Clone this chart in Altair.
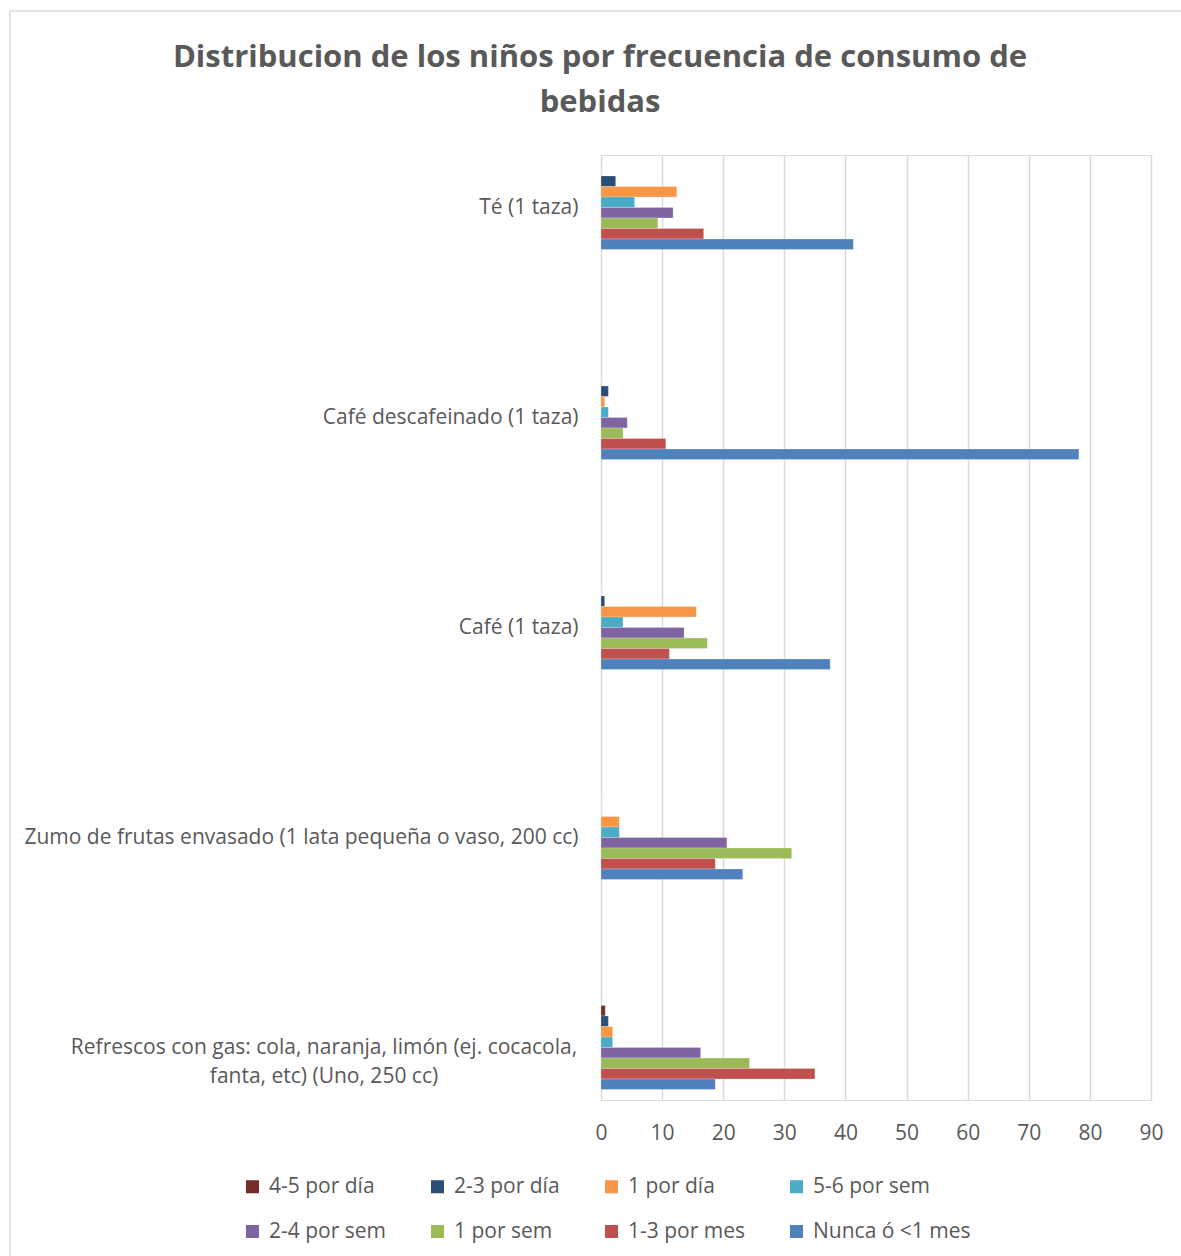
import altair as alt
import pandas as pd

title_lines = ["Distribucion de los niños por frecuencia de consumo de", "bebidas"]
categories = [
    "Té (1 taza)",
    "Café descafeinado (1 taza)",
    "Café (1 taza)",
    "Zumo de frutas envasado (1 lata pequeña o vaso, 200 cc)",
    "Refrescos con gas: cola, naranja, limón (ej. cocacola, fanta, etc) (Uno, 250 cc)",
]
wrapped_label = ["Refrescos con gas: cola, naranja, limón (ej. cocacola,",
                 "fanta, etc) (Uno, 250 cc)"]
series = ["4-5 por día", "2-3 por día", "1 por día", "5-6 por sem",
          "2-4 por sem", "1 por sem", "1-3 por mes", "Nunca ó <1 mes"]
colors = ["#772C2A", "#2C4D75", "#F79646", "#4BACC6",
          "#8064A2", "#9BBB59", "#C0504D", "#4F81BD"]

# values per category, in series order
te = [0, 2.4, 12.4, 5.5, 11.8, 9.3, 16.8, 41.3]
descaf = [0, 1.2, 0.6, 1.2, 4.3, 3.6, 10.6, 78.2]
cafe = [0, 0.6, 15.6, 3.6, 13.6, 17.4, 11.2, 37.5]
zumo = [0, 0, 3.0, 3.0, 20.6, 31.2, 18.7, 23.2]
refrescos = [0.7, 1.2, 1.9, 1.9, 16.3, 24.3, 35.0, 18.7]

rows = []
for cat, vals in zip(categories, [te, descaf, cafe, zumo, refrescos]):
    for s, v in zip(series, vals):
        rows.append({"cat": cat, "serie": s, "valor": v})
df = pd.DataFrame(rows)
lab_df = pd.DataFrame([{"cat": categories[4], "txt": wrapped_label}])

FONT = "Open Sans"
GREY = "#595959"
FS = 21
label_expr = "datum.value == '" + categories[4] + "' ? '' : datum.label"

ysc = alt.Scale(domain=categories, paddingInner=0.6, paddingOuter=0.05)

bars = alt.Chart(df).mark_bar(stroke="white", strokeWidth=0.4, strokeOpacity=0.6).encode(
    x=alt.X("valor:Q", scale=alt.Scale(domain=[0, 90], nice=False),
            axis=alt.Axis(values=list(range(0, 100, 10)), title=None, grid=True,
                          gridColor="#d9d9d9", gridWidth=1.5, domain=False, ticks=False,
                          labelFlush=False,
                          labelFontSize=FS, labelColor=GREY, labelFont=FONT, labelPadding=22)),
    y=alt.Y("cat:N", sort=categories, scale=ysc,
            axis=alt.Axis(title=None, domain=False, ticks=False, labelFontSize=FS,
                          labelColor=GREY, labelFont=FONT, labelPadding=23, labelLimit=700,
                          labelExpr=label_expr)),
    yOffset=alt.YOffset("serie:N", sort=series, scale=alt.Scale(paddingInner=0, paddingOuter=0)),
    color=alt.Color("serie:N", sort=series, scale=alt.Scale(domain=series, range=colors),
                    legend=alt.Legend(title=None, orient="none", legendX=-359, legendY=1021,
                                      direction="horizontal", columns=4, symbolType="square",
                                      symbolSize=170, symbolStrokeWidth=0, labelFontSize=FS,
                                      labelColor=GREY, labelFont=FONT, columnPadding=41,
                                      rowPadding=23, labelOffset=6)),
)

label = alt.Chart(lab_df).mark_text(
    align="center", baseline="middle", fontSize=FS, font=FONT, color=GREY, lineHeight=29
).encode(
    x=alt.value(-277),
    y=alt.Y("cat:N", sort=categories, scale=ysc, bandPosition=0.5),
    text="txt",
)

title = alt.Chart(alt.Data(values=[{"t": title_lines}])).mark_text(
    align="center", baseline="alphabetic", fontSize=31, font=FONT, fontWeight="bold",
    color=GREY, lineHeight=45
).encode(x=alt.value(-1), y=alt.value(-88), text="t:N")

border = alt.Chart(alt.Data(values=[{"a": 1}])).mark_rect(
    fill=None, stroke="#d9d9d9", strokeWidth=1.5
).encode(
    x=alt.value(-591), x2=alt.value(620), y=alt.value(-144), y2=alt.value(1150)
)

chart = alt.layer(border, title, bars, label).properties(
    width=550,
    height=945,
    autosize="none",
    padding={"left": 601, "top": 155, "right": 30, "bottom": 156},
).configure_view(stroke=None).configure(background="white")

chart.save("out.html", embed_options={"renderer": "svg", "actions": False})
